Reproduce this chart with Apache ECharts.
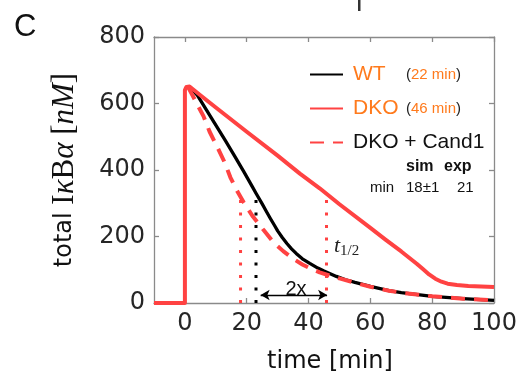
<!DOCTYPE html>
<html>
<head>
<meta charset="utf-8">
<script src="https://cdn.jsdelivr.net/npm/echarts@6/dist/echarts.min.js"></script>
<style>html,body{margin:0;padding:0;background:#fff}#c{width:525px;height:379px}</style>
</head>
<body>
<div id="c"></div>
<script>
// ---- data ----
var xTicks = [0, 20, 40, 60, 80, 100];
var yTicks = [0, 200, 400, 600, 800];
var seriesNames = ['WT', 'DKO', 'DKO + Cand1'];
var legendTimes = ['22 min', '46 min'];

var wtT = [1, 2.5, 4, 7, 10, 13, 16, 19, 21.8, 23, 25, 26.5, 27.6, 29, 30, 31.5, 33, 34.5, 36, 38, 40.4, 43, 45, 47, 49, 52, 55, 60, 66, 70, 80, 90, 100];
var wtV = [650, 640, 625, 580, 535, 490, 443, 396, 350, 330, 298, 273, 255, 233, 217, 197, 179, 163, 149, 133, 119, 105, 96, 88, 80, 70, 62, 50, 37, 31, 20, 13, 8];

var dkoT = [-10, 0, 0, 0.5, 1.5, 3, 5, 10, 20, 30, 37.2, 43.6, 50, 60, 65, 70, 75, 77, 79, 81, 83, 85, 88, 91.7, 100];
var dkoV = [0, 0, 640, 650, 651, 640, 625, 588, 515, 443, 389, 345, 297, 226, 190, 155, 118, 102, 86, 73, 64, 58, 54, 51, 48];

var candT = [1, 3, 6, 8, 10.6, 13, 14.7, 17, 19, 20.5, 22, 23.7, 25.4, 28, 30, 31.8, 33.5, 35, 38, 41, 43.6, 47, 50, 55, 60, 66, 70, 80, 90, 100];
var candV = [650, 615, 562, 515, 467, 420, 378, 335, 303, 281, 260, 240, 220, 190, 171, 156, 144, 133, 116, 102, 92, 82, 74, 61, 49, 37, 31, 20, 13, 8];

var halfT = [18, 23, 45.8];          // t1/2 markers: Cand1, WT, DKO
var halfTop = [312, 312, 312];
var arrowFrom = [24.5, 24];
var arrowTo = [46, 24];

// ---- build ----
var RED = '#ff4242', BLACK = '#000000', ORANGE = '#ff7a1c', AX = '#8a8a8a';
function zip(t, v) { return t.map(function (x, i) { return [x, v[i]]; }); }
function vline(i) { return [[halfT[i], 0], [halfT[i], halfTop[i]]]; }

var axisCommon = {
  type: 'value', splitLine: { show: false },
  axisLine: { show: true, onZero: false, lineStyle: { color: AX, width: 1.3 } },
  axisTick: { show: true, inside: true, length: 5, lineStyle: { color: AX, width: 1.3 } }
};

var chart = echarts.init(document.getElementById('c'), null, { renderer: 'canvas' });
chart.setOption({
  animation: false,
  backgroundColor: '#fff',
  grid: { left: 154, right: 31, top: 37, bottom: 72, containLabel: false },
  xAxis: [
    Object.assign({}, axisCommon, {
      min: -10, max: 100, position: 'bottom',
      axisTick: Object.assign({}, axisCommon.axisTick, { customValues: xTicks }),
      axisLabel: { customValues: xTicks, color: '#262626', fontSize: 24, fontFamily: 'DejaVu Sans', margin: 9 },
      name: 'time [min]', nameLocation: 'middle', nameGap: 47,
      nameTextStyle: { color: '#111', fontSize: 24, fontFamily: 'DejaVu Sans', padding: [0, 0, 0, 12] }
    }),
    Object.assign({}, axisCommon, {
      min: -10, max: 100, position: 'top',
      axisTick: Object.assign({}, axisCommon.axisTick, { customValues: xTicks }),
      axisLabel: { show: false }
    })
  ],
  yAxis: [
    Object.assign({}, axisCommon, {
      min: 0, max: 800, interval: 200, position: 'left',
      axisLabel: { color: '#262626', fontSize: 24, fontFamily: 'DejaVu Sans', margin: 9 },
      name: '{s|total }{m|I}{mi|κ}{m|B}{mi|α}{m| [}{mi|nM}{m|]}',
      nameLocation: 'middle', nameRotate: 90, nameGap: 74,
      nameTextStyle: {
        rich: {
          s: { fontSize: 24, fontFamily: 'DejaVu Sans', color: '#111' },
          m: { fontSize: 31, fontFamily: 'Liberation Serif', color: '#111' },
          mi: { fontSize: 31, fontFamily: 'Liberation Serif', fontStyle: 'italic', color: '#111' }
        }
      }
    }),
    Object.assign({}, axisCommon, {
      min: 0, max: 800, interval: 200, position: 'right',
      axisLabel: { show: false }
    })
  ],
  legend: {
    orient: 'vertical', left: 304, top: 59, itemWidth: 33, itemHeight: 14, itemGap: 13,
    data: seriesNames,
    itemStyle: { opacity: 0 },
    formatter: function (name) {
      if (name === seriesNames[0]) return '{o|' + name + '}{p|(}{q|' + legendTimes[0] + '}{p|)}';
      if (name === seriesNames[1]) return '{o|' + name + '}{p|(}{q|' + legendTimes[1] + '}{p|)}';
      return '{k|' + name + '}';
    },
    textStyle: {
      padding: [0, 0, 0, 5],
      rich: {
        o: { color: ORANGE, fontSize: 21, fontFamily: 'Liberation Sans', width: 53 },
        p: { color: '#222', fontSize: 15, fontFamily: 'Liberation Sans' },
        q: { color: ORANGE, fontSize: 15, fontFamily: 'Liberation Sans' },
        k: { color: '#111', fontSize: 21, fontFamily: 'Liberation Sans' }
      }
    }
  },
  series: [
    { name: seriesNames[0], type: 'line', data: zip(wtT, wtV), showSymbol: false, symbol: 'none', z: 3,
      color: BLACK, lineStyle: { color: BLACK, width: 3.3, join: 'round' },
      markLine: {
        silent: true, symbol: ['arrow', 'arrow'], symbolSize: [8, 9], label: { show: false },
        lineStyle: { color: '#000', width: 1.4, type: 'solid' },
        data: [[{ coord: arrowFrom }, { coord: arrowTo }]]
      }
    },
    { name: seriesNames[1], type: 'line', data: zip(dkoT, dkoV), showSymbol: false, symbol: 'none', z: 4,
      color: RED, lineStyle: { color: RED, width: 4, join: 'round' } },
    { name: seriesNames[2], type: 'line', data: zip(candT, candV), showSymbol: false, symbol: 'none', z: 5,
      color: RED, lineStyle: { color: RED, width: 4, type: [14, 9] } },
    { type: 'line', data: vline(0), showSymbol: false, symbol: 'none', z: 2,
      lineStyle: { color: RED, width: 3, type: [3, 9.5] } },
    { type: 'line', data: vline(1), showSymbol: false, symbol: 'none', z: 2,
      lineStyle: { color: BLACK, width: 3, type: [3, 9.5] } },
    { type: 'line', data: vline(2), showSymbol: false, symbol: 'none', z: 2,
      lineStyle: { color: RED, width: 3, type: [3, 9.5] } }
  ],
  graphic: [
    { type: 'text', left: 14, top: 12, style: { text: 'C', fontSize: 31, fontFamily: 'Liberation Sans', fill: '#111' } },
    { type: 'rect', shape: { x: 358, y: 0, width: 2.5, height: 11 }, style: { fill: '#333' } },
    { type: 'text', x: 406, y: 167, style: { text: 'sim', fontSize: 16, fontWeight: 'bold', fontFamily: 'Liberation Sans', fill: '#111', verticalAlign: 'middle' } },
    { type: 'text', x: 444, y: 167, style: { text: 'exp', fontSize: 16, fontWeight: 'bold', fontFamily: 'Liberation Sans', fill: '#111', verticalAlign: 'middle' } },
    { type: 'text', x: 370, y: 188, style: { text: 'min', fontSize: 15, fontFamily: 'Liberation Sans', fill: '#111', verticalAlign: 'middle' } },
    { type: 'text', x: 406, y: 188, style: { text: '18±1', fontSize: 15, fontFamily: 'Liberation Sans', fill: '#111', verticalAlign: 'middle' } },
    { type: 'text', x: 457, y: 188, style: { text: '21', fontSize: 15, fontFamily: 'Liberation Sans', fill: '#111', verticalAlign: 'middle' } },
    { type: 'text', x: 296, y: 289, style: { text: '2x', fontSize: 20, fontFamily: 'Liberation Sans', fill: '#111', align: 'center', verticalAlign: 'middle' } },
    { type: 'text', x: 334, y: 246, style: {
        text: '{t|t}{s|1/2}', verticalAlign: 'middle',
        rich: {
          t: { fontSize: 22, fontFamily: 'Liberation Serif', fontStyle: 'italic', fill: '#222', lineHeight: 26, verticalAlign: 'middle' },
          s: { fontSize: 15, fontFamily: 'Liberation Serif', fill: '#222', lineHeight: 26, verticalAlign: 'bottom' }
        } } }
  ]
});
</script>
</body>
</html>
